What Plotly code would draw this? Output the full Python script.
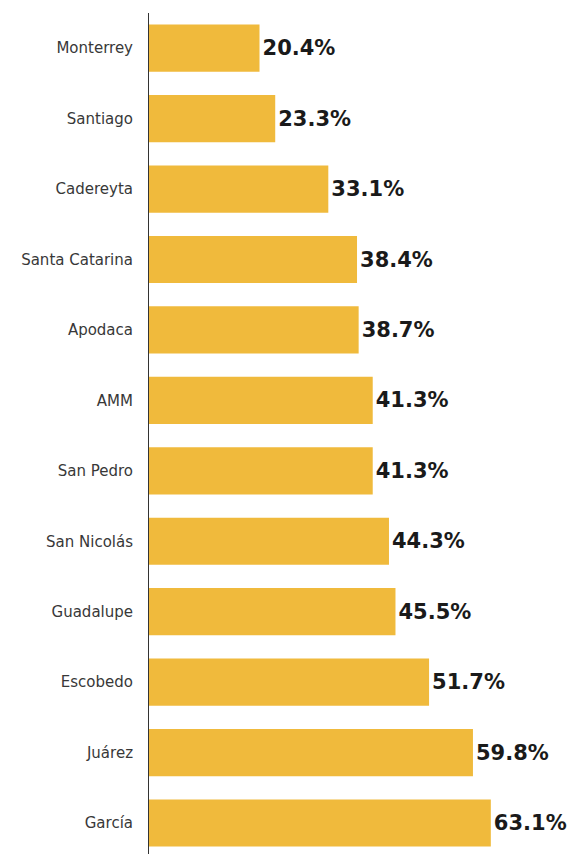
import plotly.graph_objects as go

# Municipalities, top to bottom, and their percentages
municipios = ["Monterrey", "Santiago", "Cadereyta", "Santa Catarina", "Apodaca", "AMM",
              "San Pedro", "San Nicolás", "Guadalupe", "Escobedo", "Juárez", "García"]
porcentajes = [20.4, 23.3, 33.1, 38.4, 38.7, 41.3, 41.3, 44.3, 45.5, 51.7, 59.8, 63.1]
etiquetas = [f"{v:.1f}%" for v in porcentajes]

fig = go.Figure(
    go.Bar(
        y=municipios,
        x=porcentajes,
        orientation="h",
        marker=dict(color="#F0BA3C", line=dict(width=0)),
        text=etiquetas,
        textposition="outside",
        cliponaxis=False,
        textfont=dict(family="DejaVu Sans", size=21, color="#1a1a1a", weight="bold"),
        hoverinfo="skip",
    )
)

fig.update_layout(
    width=571,
    height=854,
    margin=dict(l=149, r=0, t=13, b=0),
    paper_bgcolor="white",
    plot_bgcolor="white",
    bargap=0.33,
    showlegend=False,
)

fig.update_xaxes(range=[0, 77.9], visible=False, showgrid=False, zeroline=False)
fig.update_yaxes(
    range=[11.44, -0.5],
    showgrid=False,
    zeroline=False,
    showline=True,
    linecolor="#333333",
    linewidth=1,
    ticks="",
    ticklabelstandoff=12,
    tickfont=dict(family="DejaVu Sans", size=15, color="#383838"),
)

fig.write_html("out.html")
